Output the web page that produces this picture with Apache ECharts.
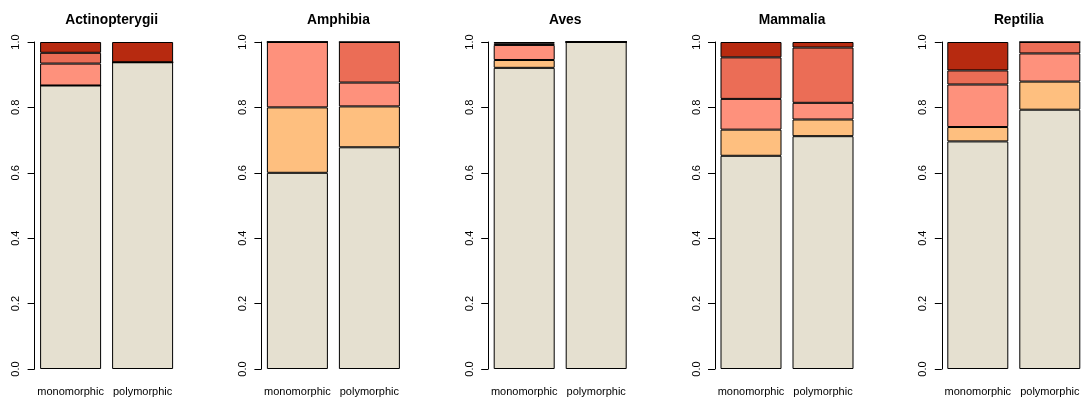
<!DOCTYPE html>
<html>
<head>
<meta charset="utf-8">
<script src="https://cdn.jsdelivr.net/npm/echarts@6/dist/echarts.min.js"></script>
<style>
  html, body { margin: 0; padding: 0; background: #ffffff; }
  #chart { width: 1086px; height: 401px; }
</style>
</head>
<body>
<div id="chart"></div>
<script>
// ---- data ----
const panelNames = ['Actinopterygii', 'Amphibia', 'Aves', 'Mammalia', 'Reptilia'];
const morphs = ['monomorphic', 'polymorphic'];
const levelNames = ['level 1', 'level 2', 'level 3', 'level 4', 'level 5'];
const levelColors = ['#E5E0D0', '#FEBF7F', '#FE917C', '#EB6D56', '#B72A10'];
const yTicks = [0.0, 0.2, 0.4, 0.6, 0.8, 1.0];

// proportions per level (bottom to top), monomorphic / polymorphic
const actinopterygiiMono = [0.867, 0.000, 0.067, 0.033, 0.033];
const actinopterygiiPoly = [0.938, 0.000, 0.000, 0.000, 0.062];
const amphibiaMono = [0.600, 0.200, 0.200, 0.000, 0.000];
const amphibiaPoly = [0.678, 0.125, 0.073, 0.124, 0.000];
const avesMono = [0.921, 0.024, 0.046, 0.005, 0.004];
const avesPoly = [1.000, 0.000, 0.000, 0.000, 0.000];
const mammaliaMono = [0.652, 0.080, 0.094, 0.127, 0.047];
const mammaliaPoly = [0.712, 0.051, 0.051, 0.169, 0.017];
const reptiliaMono = [0.696, 0.044, 0.130, 0.043, 0.087];
const reptiliaPoly = [0.793, 0.086, 0.086, 0.035, 0.000];

const panelData = [
  [actinopterygiiMono, actinopterygiiPoly],
  [amphibiaMono, amphibiaPoly],
  [avesMono, avesPoly],
  [mammaliaMono, mammaliaPoly],
  [reptiliaMono, reptiliaPoly]
];

// ---- layout ----
const gridLeft0 = 34.6, gridStep = 226.8, gridW = 144, gridTop = 42, gridBottom = 32;
const font = 'Liberation Sans, Arial, Helvetica, sans-serif';

const grids = [], xAxes = [], yAxes = [], titles = [], series = [];
panelNames.forEach((name, p) => {
  const left = gridLeft0 + p * gridStep;
  grids.push({ left: left, top: gridTop, width: gridW, bottom: gridBottom, containLabel: false });
  titles.push({
    text: name, left: left + gridW / 2, top: 8, textAlign: 'center',
    textStyle: { fontFamily: font, fontSize: 13.8, fontWeight: 'bold', color: '#000' }
  });
  xAxes.push({
    type: 'category', gridIndex: p, data: morphs,
    axisLine: { show: false }, axisTick: { show: false },
    axisLabel: { fontFamily: font, fontSize: 11, color: '#000', margin: 17, interval: 0, hideOverlap: false }
  });
  yAxes.push({
    type: 'value', gridIndex: p, min: 0, max: 1, interval: 0.2,
    axisLine: { show: true, lineStyle: { color: '#000', width: 1 } },
    axisTick: { show: true, length: 7, lineStyle: { color: '#000', width: 1 } },
    splitLine: { show: false },
    axisLabel: {
      fontFamily: font, fontSize: 11, color: '#000', rotate: 90, margin: 13,
      formatter: v => v.toFixed(1)
    }
  });
  levelNames.forEach((lv, k) => {
    series.push({
      type: 'bar', name: lv, stack: 'panel' + p,
      xAxisIndex: p, yAxisIndex: p, barWidth: 61,
      data: panelData[p].map(arr => arr[k]),
      itemStyle: { color: levelColors[k], borderColor: '#000', borderWidth: 1 },
      emphasis: { disabled: true },
      silent: true
    });
  });
});

const chart = echarts.init(document.getElementById('chart'), null, { renderer: 'canvas' });
chart.setOption({
  animation: false,
  backgroundColor: '#ffffff',
  title: titles,
  grid: grids,
  xAxis: xAxes,
  yAxis: yAxes,
  series: series
});
</script>
</body>
</html>
